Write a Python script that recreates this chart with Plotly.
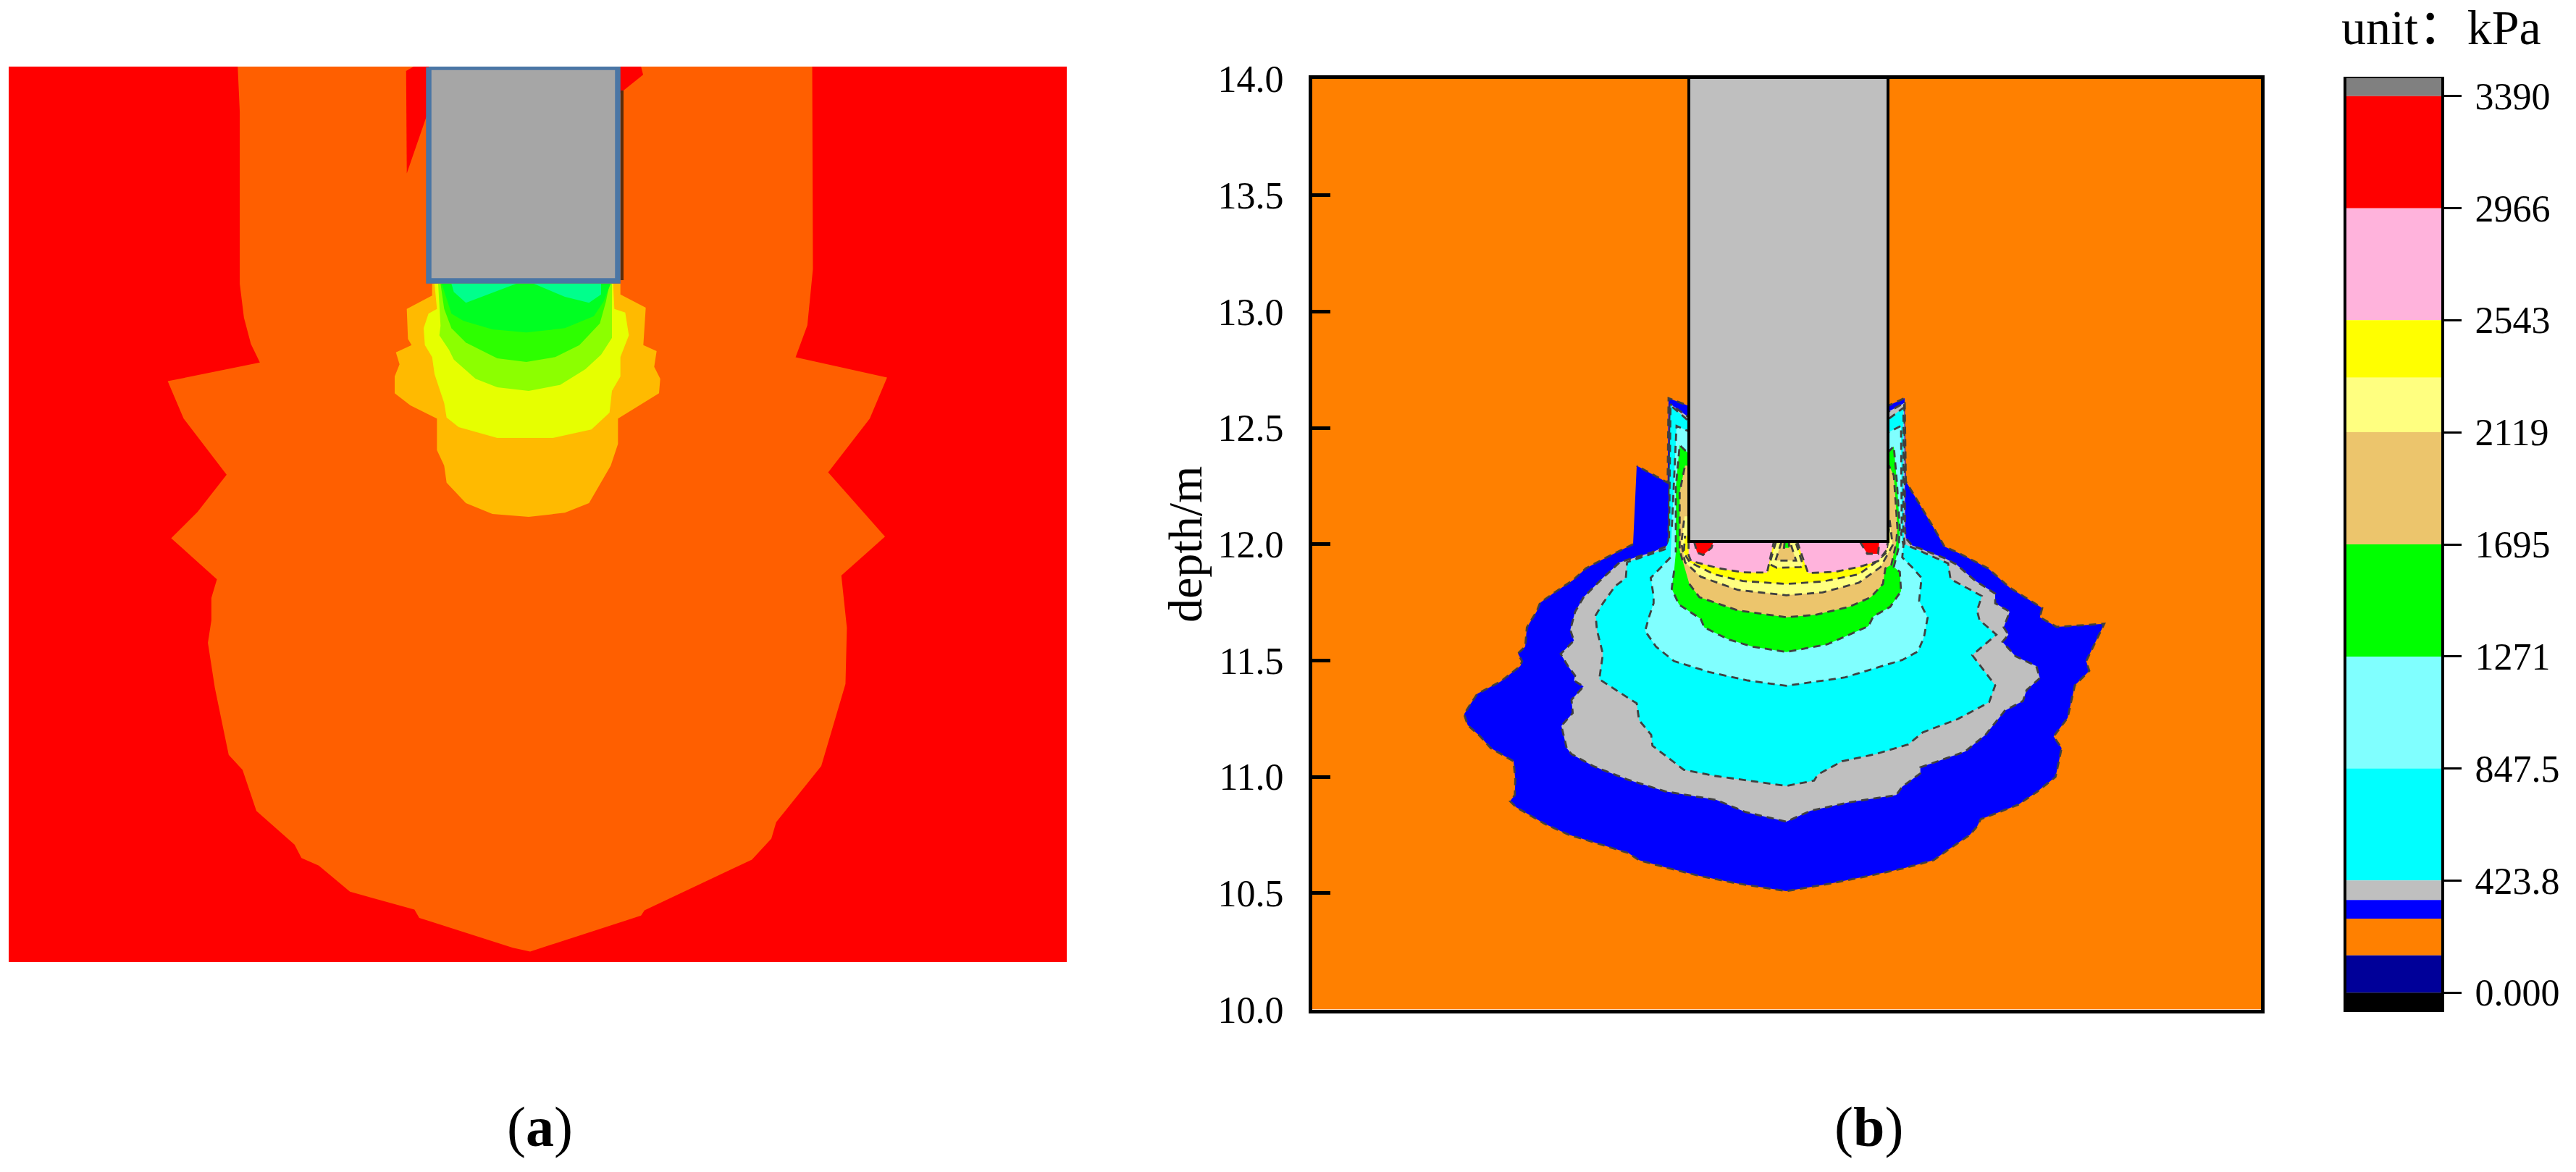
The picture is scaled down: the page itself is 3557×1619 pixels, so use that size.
import plotly.graph_objects as go

W, H = 3557, 1619
SERIF = "Liberation Serif"

# ---- colour bar
bar_edges = [3458, 3390, 2966, 2543, 2325, 2119, 1695, 1271, 847.5, 423.8, 350, 280, 141, 0, -68]
bar_colors = ["#808080", "#ff0000", "#ffb3dc", "#ffff00", "#ffff80", "#ecc56c", "#00ff00",
              "#80ffff", "#00ffff", "#bfbfbf", "#0000ff", "#ff8000", "#000099", "#000000"]
bar_ticks = [3390, 2966, 2543, 2119, 1695, 1271, 847.5, 423.8, 0]
bar_labels = ["3390", "2966", "2543", "2119", "1695", "1271", "847.5", "423.8", "0.000"]

depth_ticks = [10, 10.5, 11, 11.5, 12, 12.5, 13, 13.5, 14]

# ---- panel (a) outlines
a_orange = [(343, 89), (346, 150), (346, 380), (352, 425), (362, 460), (375, 485), (242, 510), (265, 560),
            (327, 635), (285, 685), (247, 720), (313, 775), (305, 800), (305, 830), (300, 860), (310, 920),
            (330, 1010), (350, 1030), (370, 1085), (425, 1130), (435, 1148), (460, 1158), (505, 1193),
            (598, 1217), (605, 1228), (740, 1268), (765, 1273), (925, 1225), (930, 1218), (1085, 1150),
            (1113, 1122), (1120, 1100), (1185, 1025), (1220, 915), (1222, 840), (1214, 770), (1277, 718),
            (1195, 632), (1255, 560), (1280, 505), (1148, 478), (1165, 435), (1173, 360), (1172, 89)]
a_red_left = [(586, 95), (597, 89), (625, 89), (625, 130), (587, 232)]
a_red_right = [(885, 89), (925, 89), (928, 100), (885, 132)]
a_amber = [(350, 125), (350, 175), (245, 230), (250, 355), (265, 380), (200, 410), (215, 460), (195, 510),
           (195, 580), (260, 630), (370, 685), (370, 815), (400, 880), (410, 950), (490, 1035), (600, 1080),
           (750, 1092), (900, 1075), (1000, 1035), (1090, 880), (1120, 790), (1120, 685), (1290, 580),
           (1295, 520), (1270, 470), (1280, 405), (1225, 380), (1235, 225), (1130, 170), (1130, 125)]
a_yellow = [(360, 125), (370, 230), (335, 250), (315, 310), (320, 380), (350, 430), (360, 500), (400, 620),
            (410, 680), (460, 720), (620, 765), (850, 765), (1010, 730), (1085, 660), (1095, 570), (1130, 510),
            (1130, 430), (1165, 340), (1150, 245), (1105, 230), (1100, 125)]
a_lime = [(375, 125), (385, 300), (380, 340), (420, 400), (440, 440), (530, 520), (620, 555), (750, 570),
          (880, 545), (985, 480), (1050, 420), (1095, 350), (1095, 125)]
a_green1 = [(385, 125), (400, 230), (430, 310), (490, 370), (620, 435), (740, 450), (860, 430), (960, 380),
            (1045, 290), (1070, 200), (1085, 125)]
a_green2 = [(390, 125), (430, 250), (480, 280), (600, 315), (740, 328), (900, 310), (1020, 260), (1060, 200),
            (1090, 125)]
a_teal_left = [(430, 125), (440, 160), (490, 205), (580, 170), (700, 125)]
a_teal_right = [(770, 125), (900, 180), (1000, 205), (1050, 170), (1050, 125)]
a_pile = [(592, 93), (853, 93), (853, 388), (592, 388), (592, 93)]
a_shadow = [(859, 125), (859, 387)]

# ---- panel (b) contours (left half, right half, column next to the pile)
blue_l = [(765, 65), (655, 120), (570, 165), (515, 215), (440, 265), (380, 308), (365, 345), (325, 410), (318, 490),
          (288, 518), (305, 550), (298, 570), (215, 635), (120, 685), (90, 730), (65, 770), (80, 815), (130, 860),
          (175, 910), (270, 965), (277, 1040), (275, 1105), (255, 1130), (280, 1155), (400, 1225), (500, 1270),
          (600, 1300), (700, 1330), (745, 1345), (790, 1375), (900, 1405), (1040, 1440), (1190, 1470), (1400, 1503)]
blue_r = [(260, 1472), (420, 1440), (560, 1410), (690, 1375), (745, 1335), (840, 1270), (870, 1235), (885, 1205),
          (1040, 1145), (1120, 1090), (1195, 1030), (1210, 960), (1220, 910), (1187, 862), (1245, 785), (1275, 650),
          (1335, 590), (1322, 550), (1397, 395), (1200, 408), (1130, 368), (1140, 330), (1005, 245), (915, 165),
          (800, 105), (735, 75), (692, 0)]
blue_c = [(1295, 495), (1290, 150), (1225, 180), (390, 180), (312, 150), (308, 500), (180, 430)]

grey_l = [(900, 75), (840, 100), (710, 140), (640, 205), (560, 285), (525, 345), (505, 420), (520, 465), (465, 520),
          (495, 570), (525, 610), (520, 630), (560, 655), (510, 710), (515, 765), (468, 818), (490, 910), (510, 935),
          (600, 985), (740, 1040), (900, 1090), (1110, 1125), (1230, 1175), (1400, 1215)]
grey_r = [(180, 1170), (340, 1135), (535, 1105), (560, 1070), (635, 1015), (635, 990), (820, 925), (905, 855),
          (985, 755), (1060, 715), (1075, 670), (1130, 620), (1115, 570), (1030, 530), (975, 470), (1000, 440),
          (980, 410), (1005, 345), (945, 310), (945, 270), (860, 215), (785, 150), (740, 125), (600, 70), (575, 40)]
grey_c = [(1292, 700), (1288, 170), (1225, 205), (390, 225), (320, 175), (311, 755)]

cyan_l = [(900, 85), (740, 140), (735, 205), (690, 240), (640, 310), (610, 360), (615, 420), (640, 520), (625, 625),
          (780, 725), (790, 795), (840, 855), (845, 900), (975, 1000), (1100, 1025), (1250, 1045), (1400, 1067)]
cyan_r = [(195, 1045), (210, 1020), (310, 965), (450, 935), (585, 895), (645, 845), (790, 790), (920, 720), (945, 650),
          (850, 525), (950, 440), (880, 380), (870, 340), (890, 280), (760, 210), (750, 145), (570, 65), (565, 20)]
cyan_c = [(1285, 700), (1285, 190), (1225, 235), (390, 240), (320, 180), (314, 740)]

ltcyan_l = [(920, 120), (850, 190), (838, 205), (850, 280), (850, 310), (830, 370), (815, 425), (860, 490), (935, 550),
            (1080, 595), (1240, 630), (1400, 652)]
ltcyan_r = [(200, 635), (320, 618), (560, 545), (625, 510), (650, 450), (665, 370), (630, 300), (640, 205), (600, 160),
            (560, 120), (565, 70), (555, 20)]
ltcyan_c = [(1278, 700), (1275, 265), (1225, 290), (390, 285), (345, 265), (325, 700)]

green_l = [(935, 175), (925, 250), (955, 315), (1045, 375), (1060, 410), (1160, 460), (1260, 490), (1400, 512)]
green_r = [(250, 480), (420, 405), (440, 365), (510, 325), (555, 260), (550, 180), (525, 160), (545, 80), (550, 0)]
green_c = [(1258, 500), (1245, 350), (1225, 370), (390, 375), (358, 345), (342, 520), (342, 790)]

tan_l = [(998, 230), (1040, 285), (1200, 340), (1400, 368)]
tan_r = [(200, 358), (340, 325), (430, 285), (480, 230), (490, 165), (515, 150), (535, 60), (540, 0)]
tan_c = [(1245, 470), (1225, 430), (380, 430), (358, 540), (358, 780), (375, 840)]

ltyellow_c = [(1228, 655), (1240, 760), (1190, 850), (1100, 915), (950, 955), (800, 967), (600, 945), (445, 890),
              (380, 830), (365, 750), (378, 640)]
yellow_c = [(1225, 690), (1215, 790), (1170, 830), (1100, 880), (950, 910), (800, 920), (620, 908), (500, 880),
            (400, 830), (375, 790), (380, 720)]
pink_left = [(395, 745), (395, 800), (405, 825), (520, 855), (620, 872), (720, 873), (748, 745)]
pink_right = [(845, 745), (890, 875), (1000, 870), (1100, 850), (1180, 825), (1215, 780), (1220, 745)]
red_left = [(418, 745), (430, 790), (455, 800), (490, 770), (497, 745)]
red_right = [(1105, 745), (1135, 795), (1180, 795), (1185, 745)]
wedge_ltyellow = [(757, 745), (730, 838), (760, 853), (860, 850), (868, 840), (838, 745)]
wedge_tan = [(780, 745), (755, 823), (840, 823), (815, 745)]
wedge_green = [(793, 745), (790, 770), (812, 770), (810, 745)]

pile_x = [2332, 2607]
pile_bottom = 748

A_BOX = (12, 1473, 92, 1329)
B_BOX = (1812, 3122, 109, 1394.5)
C_BOX = (3239.7, 3371, 108, 1396)


def dom_x(box):
    return [box[0] / W, box[1] / W]


def dom_y(box):
    return [1 - box[3] / H, 1 - box[2] / H]


def crop(points, left, top):
    # crops are 3x
    return [(left + x / 3, top + y / 3) for x, y in points]


def overview(points):
    # the overview crop of panel (a) was scaled differently on each side
    return [(x / 1.045, y / 0.9685) for x, y in points]


def z4(points):
    return crop(points, 2200, 500)


def z6(points):
    return crop(points, 2000, 730)


def z7(points):
    return crop(points, 2440, 730)


def to_depth(py):
    return 14 - (py - B_BOX[2]) / (B_BOX[3] - B_BOX[2]) * 4


fig = go.Figure()


def add_a(points, color):
    xs = [p[0] for p in points]
    ys = [p[1] for p in points]
    fig.add_trace(go.Scatter(x=xs, y=ys, mode="lines", fill="toself", fillcolor=color,
                             line=dict(width=0, color=color), xaxis="x", yaxis="y",
                             hoverinfo="skip", showlegend=False))


def add_b(points, color, dashed=True):
    xs = [p[0] for p in points]
    ys = [to_depth(p[1]) for p in points]
    line = dict(color="#404040", width=2.8, dash="10px,7px") if dashed else dict(width=0, color=color)
    fig.add_trace(go.Scatter(x=xs, y=ys, mode="lines", fill="toself", fillcolor=color, line=line,
                             xaxis="x2", yaxis="y2", hoverinfo="skip", showlegend=False))


# panel (a)
add_a([(A_BOX[0], A_BOX[2]), (A_BOX[1], A_BOX[2]), (A_BOX[1], A_BOX[3]), (A_BOX[0], A_BOX[3])], "#ff0000")
add_a(overview(a_orange), "#ff5f00")
add_a(overview(a_red_left), "#ff0000")
add_a(overview(a_red_right), "#ff0000")
add_a(crop(a_amber, 480, 350), "#ffba00")
add_a(crop(a_yellow, 480, 350), "#e6ff00")
add_a(crop(a_lime, 480, 350), "#8cff00")
add_a(crop(a_green1, 480, 350), "#2dff00")
add_a(crop(a_green2, 480, 350), "#00ff22")
add_a(crop(a_teal_left, 480, 350), "#00ff8c")
add_a(crop(a_teal_right, 480, 350), "#00ff8c")
fig.add_trace(go.Scatter(x=[p[0] for p in a_shadow], y=[p[1] for p in a_shadow], mode="lines",
                         line=dict(color="#5c2d0a", width=4), xaxis="x", yaxis="y",
                         hoverinfo="skip", showlegend=False))
fig.add_trace(go.Scatter(x=[p[0] for p in a_pile], y=[p[1] for p in a_pile], mode="lines", fill="toself",
                         fillcolor="#a6a6a6", line=dict(color="#4a76a5", width=7.5), cliponaxis=False,
                         xaxis="x", yaxis="y", hoverinfo="skip", showlegend=False))

# panel (b)
add_b([(B_BOX[0], B_BOX[2]), (B_BOX[1], B_BOX[2]), (B_BOX[1], B_BOX[3]), (B_BOX[0], B_BOX[3])], "#ff8000", dashed=False)
add_b(z6(blue_l) + z7(blue_r) + z4(blue_c), "#0000ff")
add_b(z6(grey_l) + z7(grey_r) + z4(grey_c), "#bfbfbf")
add_b(z6(cyan_l) + z7(cyan_r) + z4(cyan_c), "#00ffff")
add_b(z6(ltcyan_l) + z7(ltcyan_r) + z4(ltcyan_c), "#80ffff")
add_b(z6(green_l) + z7(green_r) + z4(green_c), "#00ff00")
add_b(z6(tan_l) + z7(tan_r) + z4(tan_c), "#ecc56c")
add_b(z4(ltyellow_c), "#ffff80")
add_b(z4(yellow_c), "#ffff00")
add_b(z4(pink_left), "#ffb3dc")
add_b(z4(pink_right), "#ffb3dc")
add_b(z4(red_left), "#ff0000")
add_b(z4(red_right), "#ff0000")
add_b(z4(wedge_ltyellow), "#ffff80")
add_b(z4(wedge_tan), "#ecc56c")
add_b(z4(wedge_green), "#00ff00")
fig.add_trace(go.Scatter(x=[pile_x[0], pile_x[0], pile_x[1], pile_x[1]],
                         y=[14, to_depth(pile_bottom), to_depth(pile_bottom), 14], mode="lines", fill="toself",
                         fillcolor="#bfbfbf", line=dict(color="black", width=4), xaxis="x2", yaxis="y2",
                         hoverinfo="skip", showlegend=False))

# colour bar
fig.add_trace(go.Bar(x=[0] * len(bar_colors), y=[bar_edges[i] - bar_edges[i + 1] for i in range(len(bar_colors))],
                     base=bar_edges[1:], width=1, marker=dict(color=bar_colors, line=dict(width=0)),
                     xaxis="x3", yaxis="y3", hoverinfo="skip", showlegend=False))

fig.update_layout(
    template="none",
    width=W, height=H, margin=dict(l=0, r=0, t=0, b=0, pad=0), autosize=False,
    paper_bgcolor="white", plot_bgcolor="white", barmode="overlay", showlegend=False,
    font=dict(family=SERIF, size=52, color="black"),
    xaxis=dict(domain=dom_x(A_BOX), range=[A_BOX[0], A_BOX[1]], visible=False),
    yaxis=dict(domain=dom_y(A_BOX), range=[A_BOX[3], A_BOX[2]], visible=False),
    xaxis2=dict(domain=dom_x(B_BOX), range=[B_BOX[0], B_BOX[1]], showticklabels=False, ticks="", anchor="y2",
                showgrid=False, zeroline=False, showline=True, mirror=True, linecolor="black", linewidth=5),
    yaxis2=dict(domain=dom_y(B_BOX), range=[10, 14], tickvals=depth_ticks, tickformat=".1f", ticks="inside",
                ticklen=25, tickwidth=5, tickcolor="black", ticklabelstandoff=24, tickfont=dict(size=52),
                showgrid=False, zeroline=False, showline=True, mirror=True, linecolor="black", linewidth=5,
                title=dict(text="depth/m", font=dict(size=66), standoff=2), anchor="x2"),
    xaxis3=dict(domain=dom_x(C_BOX), range=[-0.5, 0.5], showticklabels=False, ticks="", showgrid=False,
                zeroline=False, showline=True, mirror=True, linecolor="black", linewidth=2, anchor="y3"),
    yaxis3=dict(domain=dom_y(C_BOX), range=[bar_edges[-1], bar_edges[0]], side="right", anchor="x3",
                tickvals=bar_ticks, ticktext=bar_labels, ticks="outside", ticklen=24, tickwidth=3,
                tickcolor="black", ticklabelstandoff=8, tickfont=dict(size=52), showgrid=False,
                zeroline=False, showline=True, mirror=True, linecolor="black", linewidth=4),
    annotations=[
        dict(text="(<b>a</b>)", x=745 / W, y=1 - 1556 / H, xref="paper", yref="paper", showarrow=False,
             xanchor="center", yanchor="middle", font=dict(size=78, family=SERIF)),
        dict(text="(<b>b</b>)", x=2580 / W, y=1 - 1556 / H, xref="paper", yref="paper", showarrow=False,
             xanchor="center", yanchor="middle", font=dict(size=78, family=SERIF)),
        dict(text="unit：kPa", x=3371 / W, y=1 - 38 / H, xref="paper", yref="paper", showarrow=False,
             xanchor="center", yanchor="middle", font=dict(size=68, family=SERIF + ", Noto Sans CJK SC")),
    ],
)

fig.write_html("out.html", config=dict(displayModeBar=False),
               post_script="document.body.style.margin='0';")
